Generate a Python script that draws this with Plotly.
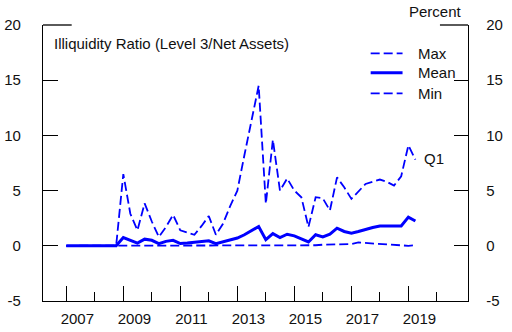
import pandas as pd
import plotly.graph_objects as go

# Quarter-end dates, 2006Q4 .. 2019Q1
dates = pd.date_range("2006-12-31", periods=50, freq="QE")

max_vals = [0, 0, 0, 0, 0, 0, 0, 0,
            6.5, 2.9, 1.4, 3.85, 2.2, 0.8, 1.7, 2.8, 1.4, 1.2, 1.0, 1.8,
            2.7, 1.0, 2.0, 3.6, 5.0, 8.2, 11.5, 14.5, 3.8, 9.6, 5.0, 6.1,
            5.0, 4.4, 1.7, 4.4, 4.3, 3.2, 6.2, 5.3, 4.25, 4.9, 5.6, 5.8,
            6.0, 5.8, 5.45, 6.3, 9.1, 7.8]
mean_vals = [0, 0, 0, 0, 0, 0, 0, 0,
             0.75, 0.5, 0.25, 0.6, 0.5, 0.2, 0.4, 0.5, 0.2, 0.25, 0.3, 0.35,
             0.45, 0.2, 0.35, 0.55, 0.7, 1.0, 1.4, 1.75, 0.55, 1.1, 0.75, 1.05,
             0.9, 0.65, 0.35, 1.0, 0.8, 1.05, 1.6, 1.3, 1.15, 1.3, 1.5, 1.65,
             1.8, 1.8, 1.8, 1.8, 2.6, 2.25]
min_vals = [0] * 35 + [0.05, 0.1, 0.1, 0.12, 0.15, 0.15, 0.3, 0.25, 0.2,
                       0.15, 0.1, 0.05, 0.0, 0.0, 0.05]

major_years = [2007, 2009, 2011, 2013, 2015, 2017, 2019]
minor_years = [2008, 2010, 2012, 2014, 2016, 2018, 2020]
y_ticks = [-5, 0, 5, 10, 15, 20]
y_tick_text = ["-5", "0", "5", "10", "15", "20"]

series_names = ["Max", "Mean", "Min"]
title_text = "Illiquidity Ratio (Level 3/Net Assets)"
unit_text = "Percent"
end_label = "Q1"

BLUE = "#0000FF"
FONT = "Liberation Sans, Arial, sans-serif"
DASH = "9px,4px"

fig = go.Figure()
fig.add_trace(go.Scatter(x=dates, y=min_vals, mode="lines",
                         line=dict(color=BLUE, width=1.8, dash=DASH),
                         showlegend=False, hoverinfo="skip"))
fig.add_trace(go.Scatter(x=dates, y=max_vals, mode="lines",
                         line=dict(color=BLUE, width=1.8, dash=DASH),
                         showlegend=False, hoverinfo="skip"))
fig.add_trace(go.Scatter(x=dates, y=mean_vals, mode="lines",
                         line=dict(color=BLUE, width=3),
                         showlegend=False, hoverinfo="skip"))
# dummy trace for right axis
fig.add_trace(go.Scatter(x=[dates[0]], y=[0], yaxis="y2", mode="lines",
                         line=dict(width=0), showlegend=False, hoverinfo="skip"))

axis_common = dict(showgrid=False, zeroline=False, showline=True,
                   linecolor="black", linewidth=1.3, ticks="inside",
                   tickcolor="black", tickwidth=1.3, automargin=False,
                   tickfont=dict(family=FONT, size=15, color="#111"))

fig.update_layout(
    width=512, height=332,
    margin=dict(l=43, r=44, t=25, b=31),
    paper_bgcolor="white", plot_bgcolor="white",
    xaxis=dict(**axis_common, type="date",
               range=["2006-03-08", "2021-02-02"],
               tickvals=[f"{y}-01-01" for y in major_years],
               ticktext=[str(y) for y in major_years],
               ticklen=15, ticklabelshift=11, ticklabelstandoff=4,
               minor=dict(tickvals=[f"{y}-01-01" for y in minor_years],
                          ticks="inside", ticklen=9, tickcolor="black",
                          tickwidth=1.3, showgrid=False)),
    yaxis=dict(**axis_common, range=[-5, 20], tickvals=y_ticks,
               ticktext=y_tick_text, ticklen=15, ticklabelstandoff=18),
    yaxis2=dict(**axis_common, range=[-5, 20], tickvals=y_ticks,
                ticktext=y_tick_text, overlaying="y", side="right",
                ticklen=14, ticklabelstandoff=14),
    showlegend=False,
)

# partial top border segments
fig.add_shape(type="line", xref="paper", yref="paper", x0=0, x1=0.0675,
              y0=1, y1=1, line=dict(color="black", width=1.3))
fig.add_shape(type="line", xref="paper", yref="paper", x0=0.934, x1=1,
              y0=1, y1=1, line=dict(color="black", width=1.3))

txt = dict(family=FONT, size=15, color="#111")
fig.add_annotation(text=title_text, xref="paper", yref="paper", x=0.0228,
                   y=0.934, xanchor="left", yanchor="middle",
                   showarrow=False, font=txt, borderpad=0)
fig.add_annotation(text=unit_text, xref="paper", yref="paper", x=0.989,
                   y=1.0507, xanchor="right", yanchor="middle",
                   showarrow=False, font=txt, borderpad=0)
fig.add_annotation(text=end_label, xref="paper", yref="paper", x=0.8934,
                   y=0.5145, xanchor="left", yanchor="middle",
                   showarrow=False, font=txt, borderpad=0)

# manual legend
leg_y = [0.8975, 0.8272, 0.7525]
leg_styles = [dict(width=1.8, dash=DASH), dict(width=3), dict(width=1.8, dash=DASH)]
for name, yy, st in zip(series_names, leg_y, leg_styles):
    fig.add_shape(type="line", xref="paper", yref="paper", x0=0.771, x1=0.846,
                  y0=yy, y1=yy, line=dict(color=BLUE, **st))
    fig.add_annotation(text=name, xref="paper", yref="paper", x=0.879, y=yy,
                       xanchor="left", yanchor="middle", showarrow=False,
                       font=txt, borderpad=0)

fig.write_html("out.html")
